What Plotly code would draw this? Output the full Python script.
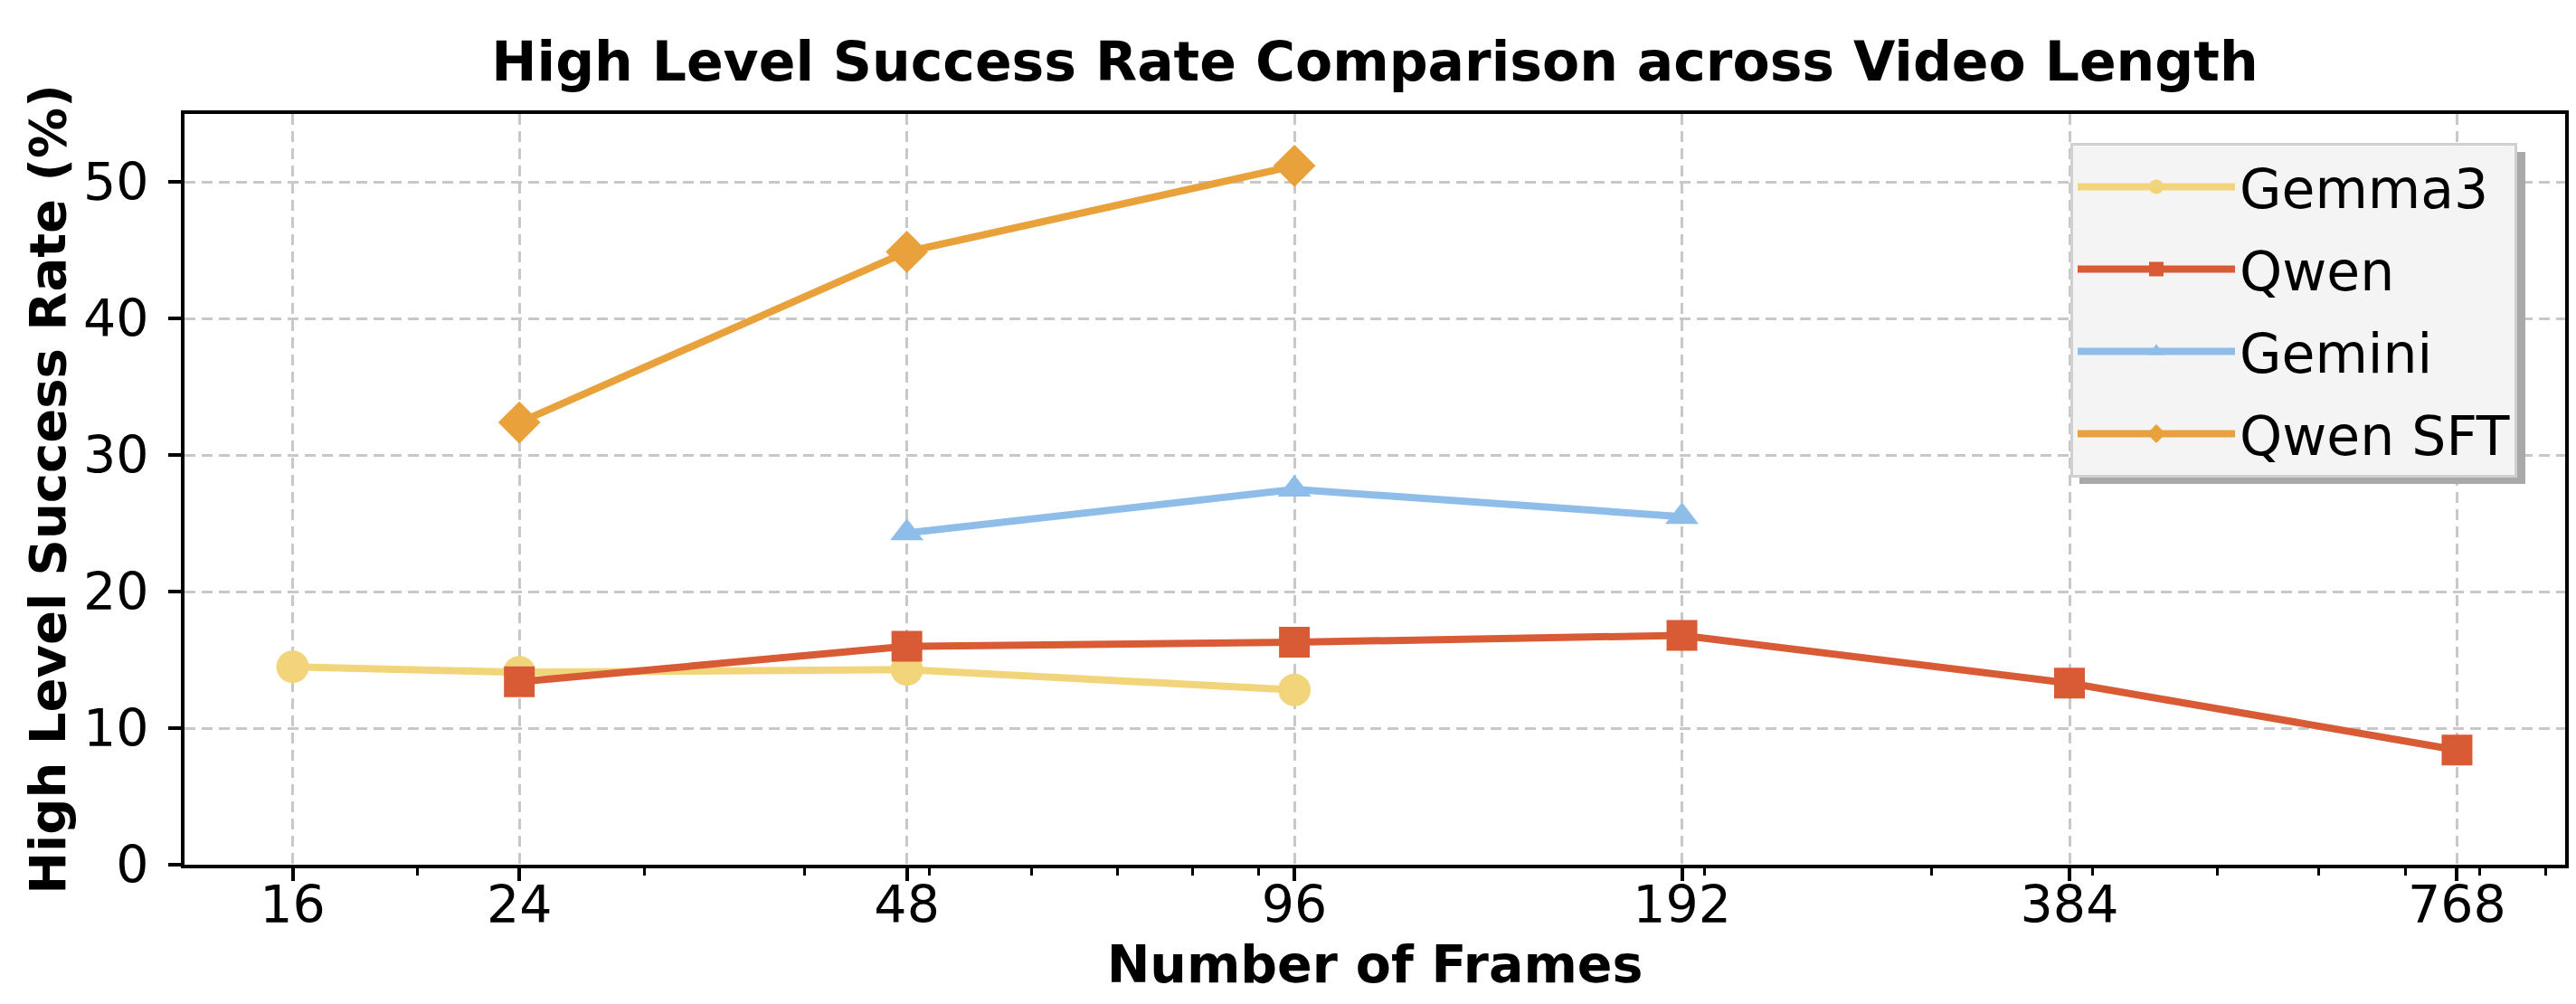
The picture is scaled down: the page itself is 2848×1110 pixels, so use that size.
import plotly.graph_objects as go
import math

# frames on x (log2 spacing), success rate in %
frames_gemma = [16, 24, 48, 96]
gemma3 = [14.5, 14.1, 14.3, 12.8]

frames_qwen = [24, 48, 96, 192, 384, 768]
qwen = [13.4, 16.0, 16.3, 16.8, 13.3, 8.4]

frames_gemini = [48, 96, 192]
gemini = [24.3, 27.5, 25.5]

frames_sft = [24, 48, 96]
qwen_sft = [32.4, 44.9, 51.2]

x_ticks = [16, 24, 48, 96, 192, 384, 768]
x_minor = [20, 30, 40, 50, 60, 70, 80, 90, 200, 300, 400, 500, 600, 700, 800, 900]
y_ticks = [0, 10, 20, 30, 40, 50]

FONT = "DejaVu Sans"
W, H = 2848, 1110
L, R, T, B = 196, 20, 118, 162

fig = go.Figure()
series = [
    ("Gemma3", frames_gemma, gemma3, "#F2D57A", "circle", 36),
    ("Qwen", frames_qwen, qwen, "#D95B36", "square", 34),
    ("Gemini", frames_gemini, gemini, "#8DBDE8", "triangle-up", 32),
    ("Qwen SFT", frames_sft, qwen_sft, "#E8A13B", "diamond", 36),
]
for name, xs, ys, col, sym, sz in series:
    fig.add_trace(go.Scatter(
        x=xs, y=ys, name=name, mode="lines+markers",
        line=dict(color=col, width=8),
        marker=dict(symbol=sym, size=sz, color=col, line=dict(width=0)),
        legendgroup=name,
    ))

# matplotlib-style 5% margin on a log axis
x_lo = 16 / 2 ** 0.279
x_hi = 768 * 2 ** 0.279

# legend drop shadow (pixel box -> paper coords), offset 10px from legend box
pw, ph = W - L - R, H - T - B
sx0, sx1, sy0, sy1 = 2291, 2784, 160, 527
fig.add_shape(type="rect", xref="paper", yref="paper", layer="above",
              x0=(sx0 - L) / pw, x1=(sx1 - L) / pw,
              y0=(H - B - sy1) / ph, y1=(H - B - sy0) / ph,
              fillcolor="#a9a9a9", line=dict(width=0))

fig.update_layout(
    width=W, height=H,
    margin=dict(l=L, r=R, t=T, b=B),
    plot_bgcolor="white", paper_bgcolor="white",
    font=dict(family=FONT, size=57, color="black"),
    title=dict(text="<b>High Level Success Rate Comparison across Video Length</b>",
               x=0.5, xref="paper", xanchor="center",
               y=1 - 60 / H, yref="container", yanchor="middle",
               font=dict(family=FONT, size=60, color="black")),
    xaxis=dict(
        type="log", range=[math.log10(x_lo), math.log10(x_hi)],
        tickvals=x_ticks, ticktext=[str(v) for v in x_ticks],
        ticks="outside", ticklen=14, tickwidth=4, tickcolor="black",
        ticklabelstandoff=-22,
        showline=True, linecolor="black", linewidth=4, mirror=True,
        showgrid=True, gridcolor="#c8c8c8", gridwidth=3, griddash="12px,7px",
        zeroline=False,
        minor=dict(tickvals=x_minor, ticks="outside", ticklen=8, tickwidth=3,
                   tickcolor="black", showgrid=False),
        title=dict(text="<b>Number of Frames</b>", standoff=4,
                   font=dict(family=FONT, size=57)),
        tickfont=dict(size=57),
    ),
    yaxis=dict(
        range=[0, 55], tickvals=y_ticks,
        ticks="outside", ticklen=14, tickwidth=4, tickcolor="black",
        ticklabelstandoff=10,
        showline=True, linecolor="black", linewidth=4, mirror=True,
        showgrid=True, gridcolor="#c8c8c8", gridwidth=3, griddash="12px,7px",
        zeroline=False,
        title=dict(text="<b>High Level Success Rate (%)</b>", standoff=2,
                   font=dict(family=FONT, size=56)),
        tickfont=dict(size=57),
    ),
    legend=dict(
        x=(2281 - L) / pw, y=(H - B - 150) / ph, xanchor="left", yanchor="top",
        bgcolor="#f4f4f4", bordercolor="#d0d0d0", borderwidth=3,
        font=dict(family=FONT, size=60), tracegroupgap=10,
        itemsizing="trace", itemwidth=174,
    ),
    showlegend=True,
)

fig.write_html("out.html")
